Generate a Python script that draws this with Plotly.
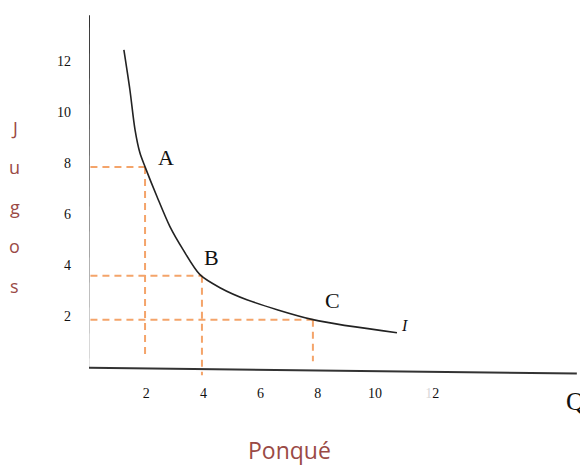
import plotly.graph_objects as go

# indifference curve I (ponqué on x, jugos on y)
curve_x = [1.22, 1.43, 1.61, 1.78, 1.96, 2.38, 2.83, 3.29, 3.88, 4.58, 5.52, 7.83, 10.77]
curve_y = [12.44, 10.88, 9.31, 8.41, 7.86, 6.69, 5.52, 4.62, 3.64, 3.13, 2.66, 1.88, 1.37]

point_names = ["A", "B", "C"]
point_x = [1.96, 3.95, 7.83]
point_y = [7.86, 3.6, 1.88]

x_ticks = [2, 4, 6, 8, 10, 12]
x_ticktext = ["2", "4", "6", "8", "10", "<span style='color:#d8d8d8'>1</span>2"]
y_ticks = [2, 4, 6, 8, 10, 12]
y_ticktext = ["2", "4", "6", "8", "10", "12"]

y_letters = ["J", "u", "g", "o", "s"]

ORANGE = "#F4A46A"
BROWN = "#9A4A45"
SERIF = "Liberation Serif"

fig = go.Figure()

# dashed guides from each point to both axes
drop_bottom = [0.4, -0.3, 0.25]
for px, py_, yb in zip(point_x, point_y, drop_bottom):
    fig.add_trace(go.Scatter(x=[0.05, px], y=[py_, py_], mode="lines",
                             line=dict(color=ORANGE, width=2, dash="7px,5px"),
                             hoverinfo="skip", showlegend=False))
    fig.add_trace(go.Scatter(x=[px, px], y=[py_, yb], mode="lines",
                             line=dict(color=ORANGE, width=2, dash="7px,5px"),
                             hoverinfo="skip", showlegend=False))

fig.add_trace(go.Scatter(x=curve_x, y=curve_y, mode="lines",
                         line=dict(color="#222222", width=1.6, shape="spline", smoothing=0.8),
                         hoverinfo="skip", showlegend=False))

# point labels
label_dx = [0.75, 0.35, 0.7]
label_dy = [0.35, 0.7, 0.75]
for name, px, py_, dx, dy in zip(point_names, point_x, point_y, label_dx, label_dy):
    fig.add_annotation(x=px + dx, y=py_ + dy, text=name, showarrow=False,
                       font=dict(family=SERIF, size=22, color="#111111"))

fig.add_annotation(x=curve_x[-1] + 0.08, y=curve_y[-1] + 0.3, text="<i>I</i>", showarrow=False,
                   xanchor="left", font=dict(family=SERIF, size=16, color="#111111"))

fig.add_annotation(xref="paper", yref="paper", x=0.982, y=-0.05, text="Q", showarrow=False,
                   xanchor="right", yanchor="middle",
                   font=dict(family=SERIF, size=26, color="#111111"))

# hand-drawn style axes
fig.add_shape(type="line", x0=0, y0=13.8, x1=-0.03, y1=0,
              line=dict(color="#333333", width=2))
fig.add_shape(type="line", x0=-0.03, y0=0, x1=17.06, y1=-0.23,
              line=dict(color="#333333", width=2))

# vertical axis title, one letter per line
for i, ch in enumerate(y_letters):
    fig.add_annotation(xref="paper", yref="paper", x=-0.146, y=0.68 - i * 0.105,
                       text=ch, showarrow=False, xanchor="center", yanchor="middle",
                       font=dict(family="Open Sans", size=18, color=BROWN))

fig.add_annotation(xref="paper", yref="paper", x=0.396, y=-0.179, text="Ponqué",
                   showarrow=False, xanchor="center", yanchor="middle",
                   font=dict(family="Open Sans", size=23, color=BROWN))

fig.update_layout(
    width=588, height=466,
    margin=dict(l=81, r=0, t=0, b=91),
    paper_bgcolor="white", plot_bgcolor="white",
    xaxis=dict(range=[0, 17.73], tickvals=x_ticks, ticktext=x_ticktext, automargin=False,
               showgrid=False, zeroline=False, showline=False, ticks="",
               ticklabelstandoff=0, tickfont=dict(family=SERIF, size=14, color="#111111")),
    yaxis=dict(range=[-0.6, 14.08], tickvals=y_ticks, ticktext=y_ticktext, automargin=False,
               showgrid=False, zeroline=False, showline=False, ticks="",
               ticklabelstandoff=17, tickfont=dict(family=SERIF, size=14, color="#111111")),
)

fig.write_html("out.html")
